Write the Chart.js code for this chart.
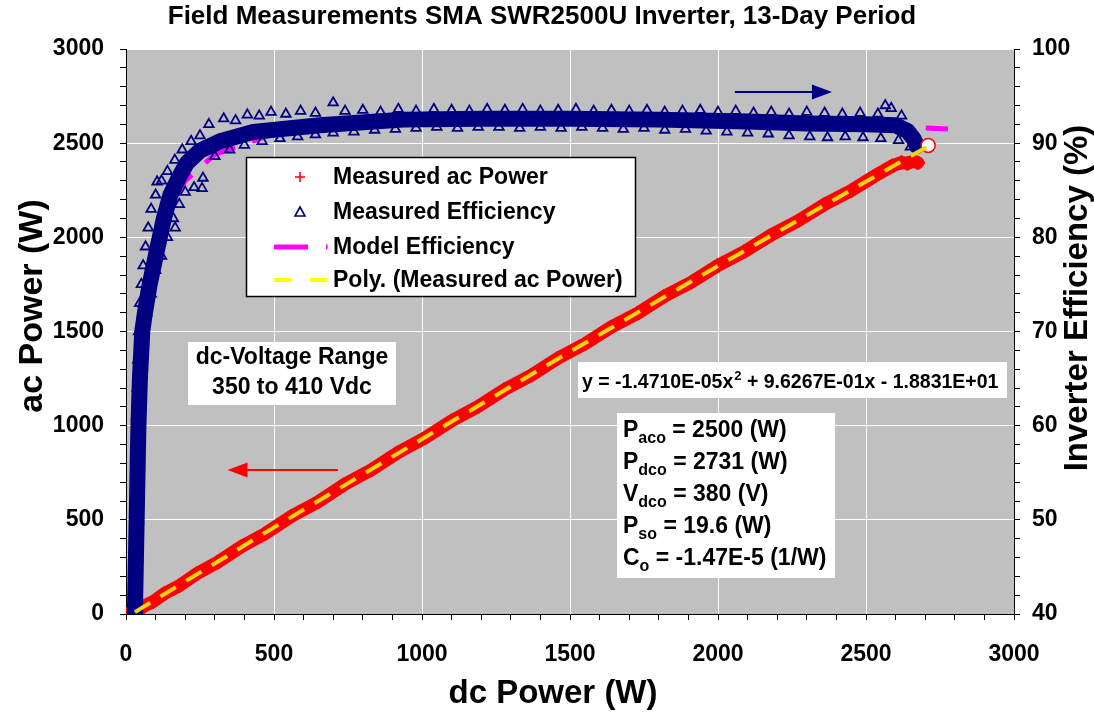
<!DOCTYPE html>
<html>
<head>
<meta charset="utf-8">
<script src="https://cdn.jsdelivr.net/npm/chart.js@4.4.1/dist/chart.umd.min.js"></script>
<style>
  html, body { margin: 0; padding: 0; background: #fff; }
  #wrap { width: 1094px; height: 715px; }
</style>
</head>
<body>
<div id="wrap"><canvas id="chart" width="1094" height="715"></canvas></div>
<script>
// ---- data ----
// measured ac power (W) against dc power (W)
const acDc = [8, 25, 40, 60, 90, 130, 180, 240, 310, 390, 470, 560, 650, 740, 830, 920, 1010, 1100, 1190, 1280,
  1370, 1460, 1550, 1640, 1730, 1820, 1910, 2000, 2090, 2180, 2270, 2360, 2450, 2530, 2590, 2620, 2640, 2660, 2675];
const acPower = [4, 8, 18, 42, 64, 109, 150, 215, 275, 358, 426, 520, 596, 690, 766, 858, 935, 1026, 1102, 1193,
  1268, 1359, 1434, 1524, 1598, 1688, 1762, 1851, 1925, 2013, 2087, 2175, 2248, 2326, 2380, 2398, 2392, 2405, 2396];

// measured efficiency (%) - centre of the dense band
const effBandDc = [30, 33, 36, 39, 42, 47, 55, 64, 80, 105, 128, 150, 176, 206, 250, 318, 430, 655, 936, 1200,
  1500, 1800, 2100, 2300, 2500, 2600, 2640, 2660, 2672];
const effBandPct = [40, 45, 50, 55, 60, 65, 70, 72, 75, 78.7, 82, 84.5, 86.2, 87.9, 89.2, 90.2, 91.2, 91.9, 92.5, 92.6,
  92.6, 92.5, 92.3, 92.1, 92.0, 91.9, 91.3, 90.5, 89.7];

// measured efficiency (%) - individual points at the edges of the band
const effDc = [
  // steep rise at low power
  26, 38, 30, 40, 31, 42, 33, 44, 34, 46, 36, 50, 38, 52, 40, 60, 43, 70, 46, 85, 52, 100, 58, 120, 66, 140, 75, 160,
  85, 180, 100, 200, 120, 230, 140, 260, 165, 190, 220, 250, 257, 166, 105,
  // upper edge
  280, 330, 370, 410, 450, 490, 540, 590, 640, 700, 740, 800, 860, 920, 980, 1040, 1100, 1160, 1220, 1280, 1340,
  1400, 1460, 1520, 1580, 1640, 1700, 1760, 1820, 1880, 1940, 2000, 2060, 2120, 2180, 2240, 2300, 2360, 2420, 2480,
  2540, 2565, 2585, 2620,
  // lower edge
  300, 350, 400, 460, 520, 580, 640, 700, 770, 840, 910, 980, 1050, 1120, 1190, 1260, 1330, 1400, 1470, 1540, 1610,
  1680, 1750, 1820, 1890, 1960, 2030, 2100, 2170, 2240, 2310, 2370, 2430, 2490, 2550, 2610, 2650];
const effPct = [
  41, 41, 44, 46, 49, 50, 53, 55, 57, 59, 61, 62, 64, 66, 67, 69, 70, 72, 73, 74, 75, 76.5, 77, 78, 79, 80, 81, 82,
  83, 83.5, 84.5, 84.8, 86, 85.3, 87, 86.3, 88.2, 89.3, 90.2, 90.8, 85.2, 81, 85.9,
  92.0, 92.6, 92.4, 93.0, 92.9, 93.3, 93.1, 93.4, 93.2, 94.3, 93.4, 93.5, 93.3, 93.6, 93.4, 93.6, 93.5, 93.4, 93.6,
  93.5, 93.6, 93.4, 93.5, 93.6, 93.4, 93.5, 93.4, 93.5, 93.3, 93.4, 93.5, 93.3, 93.4, 93.2, 93.3, 93.1, 93.3, 93.2,
  93.1, 93.2, 93.1, 94.0, 93.7, 92.9,
  88.6, 89.3, 89.8, 90.2, 90.5, 90.7, 90.9, 91.1, 91.2, 91.4, 91.5, 91.6, 91.7, 91.6, 91.7, 91.7, 91.6, 91.7, 91.6,
  91.7, 91.6, 91.5, 91.6, 91.4, 91.5, 91.3, 91.2, 91.1, 91.0, 90.8, 90.7, 90.6, 90.7, 90.6, 90.5, 90.3, 89.6];

// model efficiency (%)
const modelDc = [33, 40, 50, 60, 80, 100, 150, 200, 300, 500, 800, 1000, 1500, 2000, 2500, 2777];
const modelPct = [40, 55, 65, 70, 75.5, 79, 83.5, 86, 88.8, 91, 92.2, 92.5, 92.6, 92.4, 91.9, 91.5];

// polynomial trend of measured ac power
const polyDc = [30, 500, 1000, 1500, 2000, 2500, 2710];
const polyAc = [10, 460, 929, 1393, 1848, 2296, 2484];

// rated operating point marker
const ratedDc = [2710];
const ratedAc = [2488];

const xTicks = { min: 0, max: 3000, major: 500, minor: 100 };
const acTicks = { min: 0, max: 3000, major: 500, minor: 100 };
const effTicks = { min: 40, max: 100, major: 10, minor: 2 };

const legendLabels = ['Measured ac Power', 'Measured Efficiency', 'Model Efficiency', 'Poly. (Measured ac Power)'];
const rangeLines = ['dc-Voltage Range', '350 to 410 Vdc'];
const paramLines = [
  ['P', 'aco', ' = 2500 (W)'],
  ['P', 'dco', ' = 2731 (W)'],
  ['V', 'dco', ' = 380 (V)'],
  ['P', 'so', ' = 19.6 (W)'],
  ['C', 'o', ' = -1.47E-5 (1/W)']
];
const eqParts = ['y = -1.4710E-05x', '2', ' + 9.6267E-01x - 1.8831E+01'];

const NAVY = '#000080';
const RED = '#FF0000';
const MAGENTA = '#FF00FF';
const YELLOW = '#F2D600';
const FONT = '"Liberation Sans", Arial, sans-serif';

const pts = (xs, ys) => xs.map((x, i) => ({ x: x, y: ys[i] }));

function tickAxis(cfg, pos, showGrid) {
  return {
    type: 'linear',
    position: pos,
    min: cfg.min,
    max: cfg.max,
    border: { color: '#000', width: 1 },
    grid: {
      drawOnChartArea: showGrid,
      color: ctx => (ctx.tick && ctx.tick.value % cfg.major === 0) ? '#FFFFFF' : 'rgba(0,0,0,0)',
      tickColor: '#000',
      tickLength: 6,
      lineWidth: 1
    },
    ticks: {
      stepSize: cfg.minor,
      autoSkip: false,
      maxRotation: 0,
      color: '#000',
      font: { family: FONT, size: 23, weight: 'bold' },
      callback: v => (v % cfg.major === 0 ? String(v) : '')
    }
  };
}

const xScale = tickAxis(xTicks, 'bottom', true);
xScale.ticks.padding = 21;
xScale.afterFit = s => { s.height = 101; };
const yScale = tickAxis(acTicks, 'left', true);
yScale.ticks.padding = 16;
yScale.afterFit = s => { s.width = 126; };
const y1Scale = tickAxis(effTicks, 'right', false);
y1Scale.ticks.padding = 12;
y1Scale.afterFit = s => { s.width = 80; };

// grey plot area
const plotBg = {
  id: 'plotBg',
  beforeDraw(chart) {
    const a = chart.chartArea, ctx = chart.ctx;
    ctx.save();
    ctx.fillStyle = '#C0C0C0';
    ctx.fillRect(a.left, a.top, a.right - a.left, a.bottom - a.top);
    ctx.restore();
  }
};

function arrow(ctx, x0, y0, x1, y1, color) {
  const dir = Math.sign(x1 - x0);
  ctx.strokeStyle = color;
  ctx.fillStyle = color;
  ctx.lineWidth = 2;
  ctx.beginPath();
  ctx.moveTo(x0, y0);
  ctx.lineTo(x1 - dir * 18, y1);
  ctx.stroke();
  ctx.beginPath();
  ctx.moveTo(x1, y1);
  ctx.lineTo(x1 - dir * 20, y1 - 7.5);
  ctx.lineTo(x1 - dir * 20, y1 + 7.5);
  ctx.closePath();
  ctx.fill();
}

function box(ctx, x, y, w, h, border) {
  ctx.fillStyle = '#FFFFFF';
  ctx.fillRect(x, y, w, h);
  if (border) {
    ctx.strokeStyle = '#000';
    ctx.lineWidth = 1.5;
    ctx.strokeRect(x + 0.5, y + 0.5, w, h);
  }
  ctx.fillStyle = '#000';
}

const overlay = {
  id: 'overlay',
  afterDatasetsDraw(chart) {
    const ctx = chart.ctx;
    const xs = chart.scales.x, ys = chart.scales.y;
    ctx.save();
    // direction arrows
    arrow(ctx, xs.getPixelForValue(2057), ys.getPixelForValue(2772), xs.getPixelForValue(2385), ys.getPixelForValue(2772), NAVY);
    arrow(ctx, xs.getPixelForValue(716), ys.getPixelForValue(765), xs.getPixelForValue(343), ys.getPixelForValue(765), RED);

    // legend
    box(ctx, 246, 157, 389, 139, true);
    ctx.font = 'bold 23px ' + FONT;
    ctx.textBaseline = 'middle';
    ctx.textAlign = 'left';
    const rows = [177, 212, 247, 280];
    legendLabels.forEach((t, i) => ctx.fillText(t, 333, rows[i] + 1));
    ctx.strokeStyle = RED; ctx.lineWidth = 1.6;
    ctx.beginPath();
    ctx.moveTo(295, rows[0]); ctx.lineTo(305, rows[0]);
    ctx.moveTo(300, rows[0] - 5); ctx.lineTo(300, rows[0] + 5);
    ctx.stroke();
    ctx.strokeStyle = NAVY; ctx.lineWidth = 1.6;
    ctx.beginPath();
    ctx.moveTo(300, rows[1] - 5); ctx.lineTo(305, rows[1] + 4); ctx.lineTo(295, rows[1] + 4); ctx.closePath();
    ctx.stroke();
    ctx.strokeStyle = MAGENTA; ctx.lineWidth = 5;
    ctx.beginPath(); ctx.moveTo(274, rows[2]); ctx.lineTo(308, rows[2]); ctx.moveTo(326, rows[2]); ctx.lineTo(327.5, rows[2]); ctx.stroke();
    ctx.strokeStyle = '#FFFF00'; ctx.lineWidth = 4;
    ctx.beginPath(); ctx.moveTo(274, rows[3]); ctx.lineTo(292, rows[3]); ctx.moveTo(310, rows[3]); ctx.lineTo(327, rows[3]); ctx.stroke();

    // voltage range note
    box(ctx, 188, 342, 208, 63, false);
    ctx.textAlign = 'center';
    ctx.font = 'bold 23px ' + FONT;
    ctx.fillText(rangeLines[0], 292, 358);
    ctx.fillText(rangeLines[1], 292, 388);

    // trend equation
    box(ctx, 578, 362, 429, 36, false);
    ctx.textAlign = 'left';
    ctx.textBaseline = 'alphabetic';
    let x = 582;
    ctx.font = 'bold 19.5px ' + FONT;
    ctx.fillText(eqParts[0], x, 388); x += ctx.measureText(eqParts[0]).width;
    ctx.font = 'bold 13px ' + FONT;
    ctx.fillText(eqParts[1], x + 1, 380); x += ctx.measureText(eqParts[1]).width + 1;
    ctx.font = 'bold 19.5px ' + FONT;
    ctx.fillText(eqParts[2], x, 388);

    // model parameters
    box(ctx, 617, 413, 218, 165, false);
    const base = [437, 469, 501, 533, 565];
    paramLines.forEach((p, i) => {
      let px = 623;
      ctx.font = 'bold 23px ' + FONT;
      ctx.fillText(p[0], px, base[i]); px += ctx.measureText(p[0]).width;
      ctx.font = 'bold 16px ' + FONT;
      ctx.fillText(p[1], px, base[i] + 6); px += ctx.measureText(p[1]).width;
      ctx.font = 'bold 23px ' + FONT;
      ctx.fillText(p[2], px, base[i]);
    });
    ctx.restore();
  },
  afterDraw(chart) {
    const ctx = chart.ctx;
    ctx.save();
    ctx.fillStyle = '#000';
    ctx.textAlign = 'center';
    ctx.textBaseline = 'middle';
    ctx.font = 'bold 26px ' + FONT;
    ctx.fillText('Field Measurements SMA SWR2500U Inverter, 13-Day Period', 542, 17);
    ctx.font = 'bold 33px ' + FONT;
    ctx.fillText('dc Power (W)', 553, 694);
    ctx.translate(33, 306);
    ctx.rotate(-Math.PI / 2);
    ctx.font = 'bold 34px ' + FONT;
    ctx.fillText('ac Power (W)', 0, 0);
    ctx.restore();
    ctx.save();
    ctx.fillStyle = '#000';
    ctx.textAlign = 'center';
    ctx.textBaseline = 'middle';
    ctx.font = 'bold 33px ' + FONT;
    ctx.translate(1078, 298);
    ctx.rotate(-Math.PI / 2);
    ctx.fillText('Inverter Efficiency (%)', 0, 0);
    ctx.restore();
  }
};

new Chart(document.getElementById('chart'), {
  type: 'scatter',
  data: {
    datasets: [
      {
        label: 'Poly. (Measured ac Power)',
        data: pts(polyDc, polyAc),
        yAxisID: 'y',
        showLine: true,
        borderColor: YELLOW,
        borderWidth: 4,
        borderDash: [18, 12],
        pointRadius: 0,
        order: 0
      },
      {
        label: 'rated point',
        data: pts(ratedDc, ratedAc),
        yAxisID: 'y',
        pointStyle: 'circle',
        pointRadius: 7,
        backgroundColor: '#FFFFFF',
        borderColor: RED,
        borderWidth: 1.5,
        order: 1
      },
      {
        label: 'Measured Efficiency',
        data: pts(effDc, effPct),
        yAxisID: 'y1',
        pointStyle: 'triangle',
        pointRadius: 5.5,
        backgroundColor: 'rgba(0,0,0,0)',
        borderColor: NAVY,
        borderWidth: 1.8,
        order: 2
      },
      {
        label: 'Measured Efficiency band',
        data: pts(effBandDc, effBandPct),
        yAxisID: 'y1',
        showLine: true,
        borderColor: NAVY,
        borderWidth: 16,
        borderJoinStyle: 'round',
        borderCapStyle: 'round',
        pointRadius: 0,
        order: 3
      },
      {
        label: 'Model Efficiency',
        data: pts(modelDc, modelPct),
        yAxisID: 'y1',
        showLine: true,
        borderColor: MAGENTA,
        borderWidth: 5,
        borderDash: [34, 18],
        pointRadius: 0,
        order: 4
      },
      {
        label: 'Measured ac Power',
        data: pts(acDc, acPower),
        yAxisID: 'y',
        showLine: true,
        borderColor: RED,
        backgroundColor: RED,
        borderWidth: 13,
        borderCapStyle: 'round',
        pointStyle: 'cross',
        pointRadius: 7,
        pointBorderWidth: 3,
        order: 5
      }
    ]
  },
  options: {
    responsive: false,
    animation: false,
    layout: { padding: { top: 49, left: 0, right: 0, bottom: 0 } },
    plugins: { legend: { display: false }, tooltip: { enabled: false }, title: { display: false } },
    scales: { x: xScale, y: yScale, y1: y1Scale }
  },
  plugins: [plotBg, overlay]
});
</script>
</body>
</html>
